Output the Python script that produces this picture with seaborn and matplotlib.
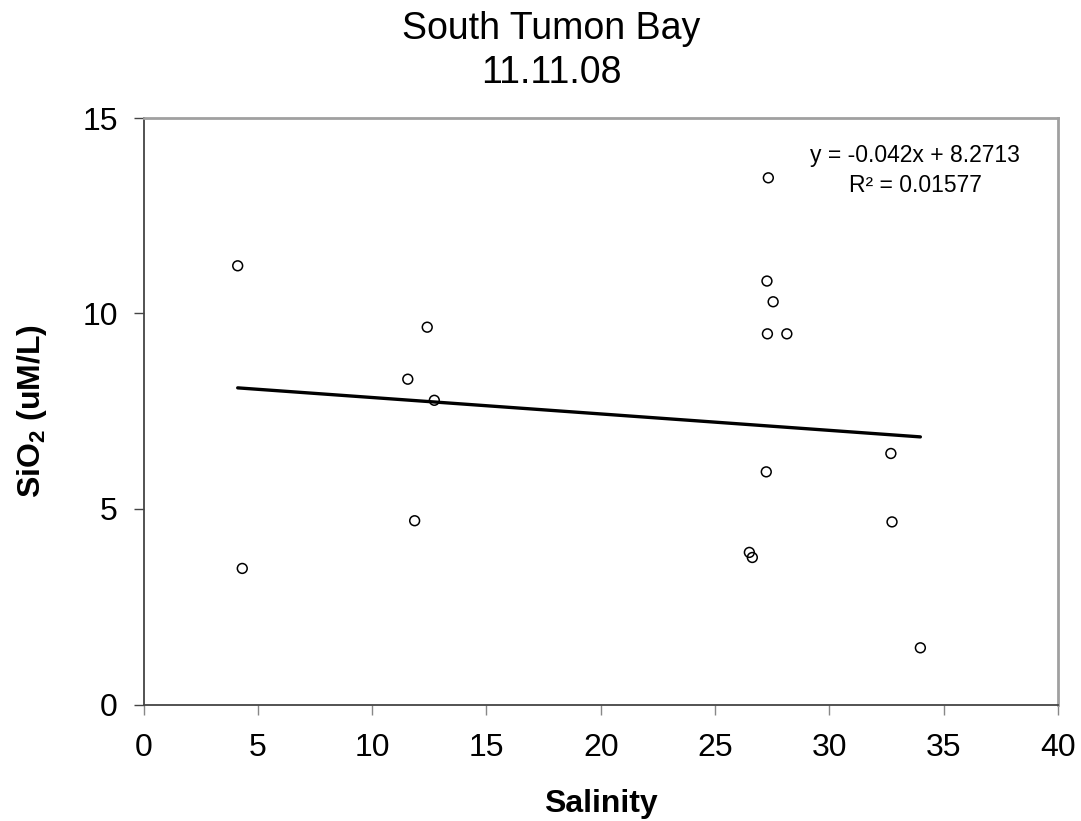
import matplotlib
matplotlib.use("Agg")
import matplotlib.pyplot as plt
import numpy as np
import pandas as pd
import seaborn as sns

# Salinity vs dissolved silica, South Tumon Bay, 11.11.08
salinity = [4.12, 4.32, 11.56, 12.41, 11.86, 12.72, 27.33, 27.27, 27.54,
            27.29, 28.14, 27.24, 26.50, 26.63, 32.69, 32.74, 33.98]
sio2 = [11.22, 3.48, 8.32, 9.65, 4.70, 7.78, 13.47, 10.83, 10.30,
        9.48, 9.48, 5.95, 3.89, 3.76, 6.42, 4.67, 1.45]

# Linear trendline as reported
slope = -0.042
intercept = 8.2713
r_squared = 0.01577

x_ticks = [0, 5, 10, 15, 20, 25, 30, 35, 40]
y_ticks = [0, 5, 10, 15]

sns.set_theme(style="ticks")
plt.rcParams["font.family"] = ["Liberation Sans", "DejaVu Sans"]
plt.rcParams["mathtext.default"] = "regular"
plt.rcParams["text.color"] = "black"
plt.rcParams["axes.labelcolor"] = "black"
plt.rcParams["xtick.color"] = "black"
plt.rcParams["ytick.color"] = "black"

df = pd.DataFrame({"Salinity": salinity, "SiO2": sio2})

fig = plt.figure(figsize=(10.81, 8.21), dpi=100)
ax = fig.add_axes([143.5 / 1081, 1 - 704.5 / 821, (1058 - 143.5) / 1081, (704.5 - 118) / 821])

sns.scatterplot(data=df, x="Salinity", y="SiO2", ax=ax, s=50, marker="o",
                facecolor="none", edgecolor="black", linewidth=1.1, zorder=3)

xs = np.array([min(salinity), max(salinity)])
trend = pd.DataFrame({"x": xs, "y": slope * xs + intercept})
sns.lineplot(data=trend, x="x", y="y", ax=ax, color="black", linewidth=2.4, zorder=2)

ax.set_xlim(0, 40)
ax.set_ylim(0, 15)
ax.set_xticks(x_ticks)
ax.set_yticks(y_ticks)
ax.tick_params(axis="both", which="major", labelsize=23, direction="out",
               length=7.5, width=1.0, labelcolor="black")
ax.tick_params(axis="x", color="#888888", pad=13)
ax.tick_params(axis="y", color="#444444", pad=11)

for side in ("left", "bottom"):
    ax.spines[side].set_visible(True)
    ax.spines[side].set_color("#444444")
    ax.spines[side].set_linewidth(1.3)
for side in ("top", "right"):
    ax.spines[side].set_visible(True)
    ax.spines[side].set_color("#a0a0a0")
    ax.spines[side].set_linewidth(2.0)

ax.set_xlabel("Salinity", fontsize=23, fontweight="bold", labelpad=19)
ax.set_ylabel("SiO$_2$ (uM/L)", fontsize=23, fontweight="bold", labelpad=24)

fig.text(0.51, 1 - 29 / 821, "South Tumon Bay", ha="center", va="center", fontsize=27)
fig.text(0.51, 1 - 73 / 821, "11.11.08", ha="center", va="center", fontsize=27)

ax.text(33.75, 13.66, f"y = {slope}x + {intercept}\nR² = {r_squared}",
        ha="center", va="center", fontsize=16.5, linespacing=1.4)

fig.savefig("out.png", dpi=100)
